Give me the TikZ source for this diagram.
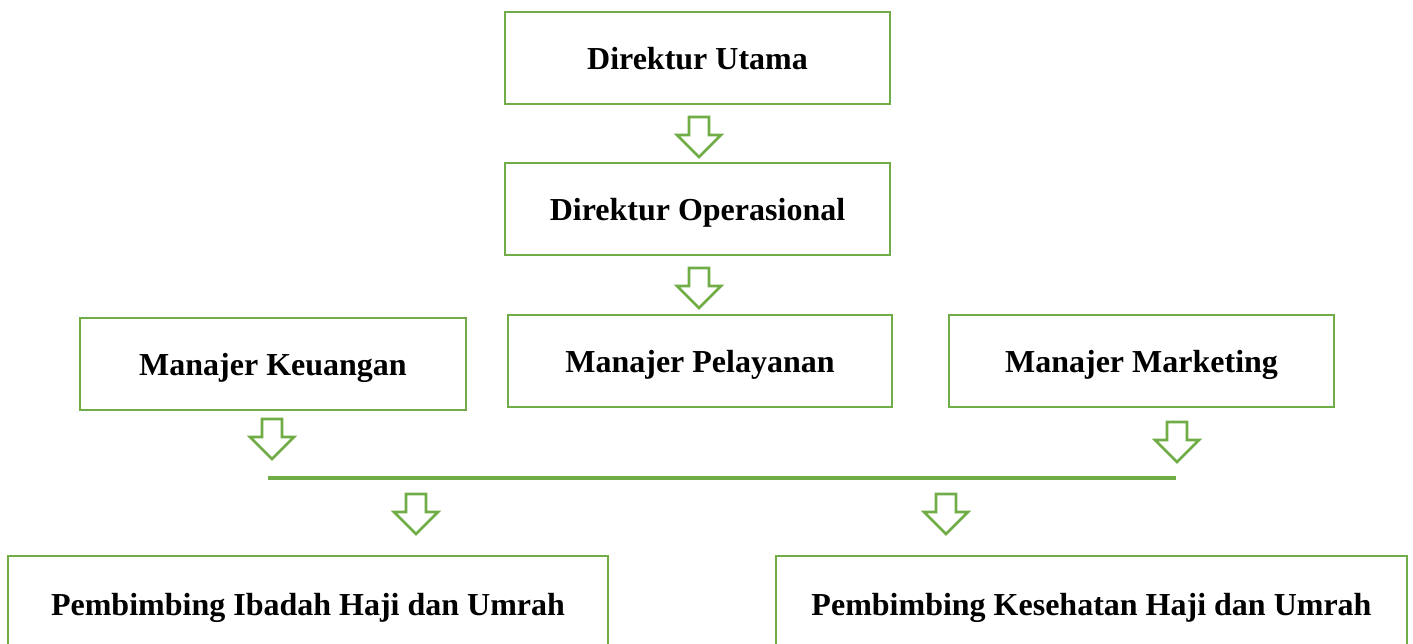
\documentclass[tikz,border=0pt]{standalone}
\usepackage{fontspec}
\setmainfont{Liberation Serif}
\definecolor{boxgreen}{HTML}{70AD47}
\begin{document}
\begin{tikzpicture}[x=1pt,y=-1pt,
  orgbox/.style={draw=boxgreen,line width=2.6pt,fill=white,inner sep=0pt,text depth=0pt,
     font=\fontsize{32}{38}\selectfont\bfseries,text=black},
  blockarrow/.pic={\draw[draw=boxgreen,line width=2.6pt,fill=white,line join=miter]
     (-10,0) -- (10,0) -- (10,18) -- (22,18) -- (0,40) -- (-22,18) -- (-10,18) -- cycle;},
  busline/.style={draw=boxgreen,line width=3.4pt}]
\useasboundingbox (0,0) rectangle (1413,644);
\clip (0,0) rectangle (1413,644);
\node[orgbox,minimum width=385pt,minimum height=92pt] (du) at (697.5,58) {Direktur Utama};
\node[orgbox,minimum width=385pt,minimum height=92pt] (do) at (697.5,209) {Direktur Operasional};
\node[orgbox,minimum width=386pt,minimum height=92pt] (mk) at (273,364) {Manajer Keuangan};
\node[orgbox,minimum width=384pt,minimum height=92pt] (mp) at (700,361) {Manajer Pelayanan};
\node[orgbox,minimum width=385pt,minimum height=92pt] (mm) at (1141.5,361) {Manajer Marketing};
\node[orgbox,minimum width=600pt,minimum height=96pt] (pi) at (308,604) {Pembimbing Ibadah Haji dan Umrah};
\node[orgbox,minimum width=631pt,minimum height=96pt] (pk) at (1091.5,604) {Pembimbing Kesehatan Haji dan Umrah};
\pic (a1) at (699,117) {blockarrow};
\pic (a2) at (699,268) {blockarrow};
\pic (a3) at (272,419) {blockarrow};
\pic (a4) at (1177,422) {blockarrow};
\pic (a5) at (416,494) {blockarrow};
\pic (a6) at (946,494) {blockarrow};
\coordinate (hl) at (268,478);
\coordinate (hr) at (1176,478);
\draw[busline] (hl) -- (hr);
\end{tikzpicture}
\end{document}
